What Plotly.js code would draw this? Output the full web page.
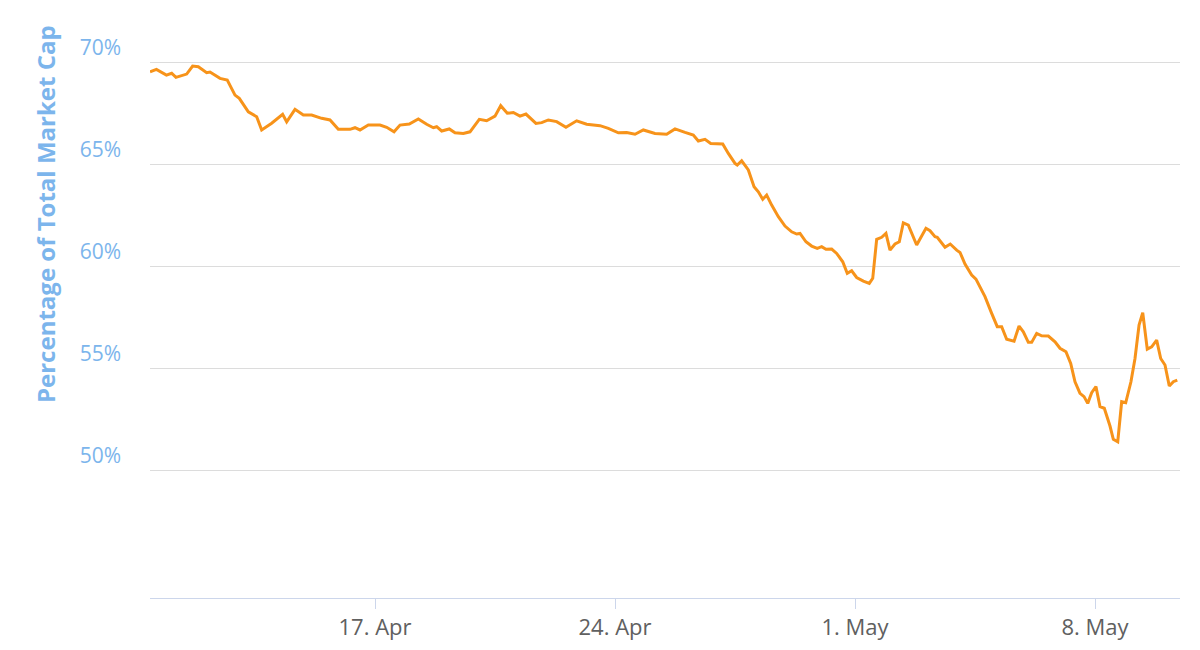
<!DOCTYPE html>
<html>
<head>
<meta charset="utf-8">
<script src="https://cdn.plot.ly/plotly-3.0.1.min.js"></script>
<style>
html,body{margin:0;padding:0;background:#fff;}
#chart{width:1200px;height:650px;}
</style>
</head>
<body>
<div id="chart"></div>
<script>
const times = [
"2017-04-10 10:30","2017-04-10 15:00","2017-04-10 22:00","2017-04-11 01:40","2017-04-11 04:40",
"2017-04-11 12:10","2017-04-11 16:20","2017-04-11 20:20","2017-04-12 02:10","2017-04-12 04:30",
"2017-04-12 11:30","2017-04-12 16:35","2017-04-12 22:00","2017-04-13 01:00","2017-04-13 07:20",
"2017-04-13 13:10","2017-04-13 16:40","2017-04-13 23:40","2017-04-14 07:20","2017-04-14 10:10",
"2017-04-14 16:00","2017-04-14 21:50","2017-04-15 03:40","2017-04-15 10:40","2017-04-15 16:30",
"2017-04-15 22:20","2017-04-16 06:30","2017-04-16 10:00","2017-04-16 13:30","2017-04-16 19:20",
"2017-04-17 03:30","2017-04-17 08:10","2017-04-17 13:20","2017-04-17 17:30","2017-04-18 00:00",
"2017-04-18 06:20","2017-04-18 12:10","2017-04-18 16:50","2017-04-18 19:10","2017-04-18 22:40",
"2017-04-19 04:00","2017-04-19 08:00","2017-04-19 13:50","2017-04-19 18:30","2017-04-20 01:00",
"2017-04-20 06:10","2017-04-20 12:00","2017-04-20 16:00","2017-04-20 20:35","2017-04-21 00:50",
"2017-04-21 05:30","2017-04-21 09:40","2017-04-21 16:40","2017-04-21 20:40","2017-04-22 01:20",
"2017-04-22 07:10","2017-04-22 13:40","2017-04-22 21:10","2017-04-23 04:10","2017-04-23 13:30",
"2017-04-23 19:20","2017-04-24 02:20","2017-04-24 08:10","2017-04-24 14:00","2017-04-24 19:50",
"2017-04-25 04:00","2017-04-25 12:10","2017-04-25 18:00","2017-04-26 01:00","2017-04-26 06:50",
"2017-04-26 10:20","2017-04-26 15:00","2017-04-26 19:00","2017-04-27 03:25","2017-04-27 07:20",
"2017-04-27 12:00","2017-04-27 13:35","2017-04-27 16:40","2017-04-27 21:20","2017-04-28 01:20",
"2017-04-28 04:20","2017-04-28 07:25","2017-04-28 10:10","2017-04-28 13:40","2017-04-28 18:20",
"2017-04-28 23:00","2017-04-29 03:40","2017-04-29 07:10","2017-04-29 09:30","2017-04-29 13:40",
"2017-04-29 17:40","2017-04-29 21:35","2017-04-30 00:40","2017-04-30 03:40","2017-04-30 07:40",
"2017-04-30 11:10","2017-04-30 15:25","2017-04-30 18:35","2017-04-30 21:40","2017-05-01 01:10",
"2017-05-01 05:50","2017-05-01 10:00","2017-05-01 12:25","2017-05-01 15:10","2017-05-01 18:40",
"2017-05-01 21:40","2017-05-02 00:30","2017-05-02 04:00","2017-05-02 07:00","2017-05-02 09:50",
"2017-05-02 13:20","2017-05-02 19:10","2017-05-03 01:40","2017-05-03 04:30","2017-05-03 08:00",
"2017-05-03 09:35","2017-05-03 15:00","2017-05-03 18:40","2017-05-03 23:10","2017-05-04 01:30",
"2017-05-04 05:00","2017-05-04 09:40","2017-05-04 12:40","2017-05-04 19:00","2017-05-04 23:40",
"2017-05-05 03:35","2017-05-05 06:40","2017-05-05 10:10","2017-05-05 15:20","2017-05-05 18:50",
"2017-05-05 21:50","2017-05-06 01:20","2017-05-06 03:40","2017-05-06 07:10","2017-05-06 10:40",
"2017-05-06 15:20","2017-05-06 20:00","2017-05-06 23:30","2017-05-07 03:40","2017-05-07 07:00",
"2017-05-07 10:00","2017-05-07 13:30","2017-05-07 16:20","2017-05-07 18:55","2017-05-07 21:40",
"2017-05-08 00:40","2017-05-08 03:30","2017-05-08 06:30","2017-05-08 10:30","2017-05-08 12:50",
"2017-05-08 15:55","2017-05-08 18:40","2017-05-08 21:30","2017-05-09 01:10","2017-05-09 04:00",
"2017-05-09 06:50","2017-05-09 09:25","2017-05-09 12:35","2017-05-09 15:40","2017-05-09 19:10",
"2017-05-09 22:00","2017-05-10 01:00","2017-05-10 04:00","2017-05-10 06:50","2017-05-10 09:35"
];
const dominance = [
69.52,69.64,69.36,69.45,69.25,
69.41,69.80,69.77,69.48,69.51,
69.20,69.12,68.38,68.22,67.56,
67.32,66.67,67.00,67.44,67.07,
67.68,67.40,67.40,67.24,67.16,
66.70,66.70,66.78,66.67,66.91,
66.91,66.80,66.58,66.91,66.96,
67.21,66.95,66.78,66.83,66.62,
66.72,66.53,66.50,66.58,67.19,
67.12,67.35,67.86,67.49,67.53,
67.35,67.45,66.99,67.03,67.16,
67.08,66.80,67.12,66.95,66.88,
66.75,66.53,66.55,66.46,66.67,
66.50,66.46,66.72,66.55,66.42,
66.13,66.21,66.01,65.98,65.52,
65.03,64.95,65.16,64.71,63.89,
63.64,63.27,63.48,62.99,62.42,
61.96,61.68,61.57,61.60,61.19,
60.98,60.87,60.95,60.82,60.83,
60.62,60.21,59.64,59.77,59.44,
59.26,59.15,59.40,61.31,61.41,
61.60,60.78,61.08,61.19,62.12,
62.01,61.03,61.85,61.73,61.44,
61.41,60.92,61.08,60.78,60.67,
60.10,59.56,59.36,58.50,57.68,
57.03,57.03,56.41,56.32,57.06,
56.78,56.26,56.26,56.70,56.58,
56.57,56.29,55.97,55.80,55.23,
54.33,53.76,53.60,53.27,53.79,
54.09,53.11,53.03,52.16,51.51,
51.39,53.35,53.30,54.33,55.47,
57.11,57.71,55.93,56.04,56.37,
55.47,55.15,54.12,54.33,54.41
];
const yTicks = [50, 55, 60, 65, 70];
const yTickLabels = ["50%", "55%", "60%", "65%", "70%"];
const xTicks = ["2017-04-17", "2017-04-24", "2017-05-01", "2017-05-08"];
const xTickLabels = ["17. Apr", "24. Apr", "1. May", "8. May"];
const yTitle = "Percentage of Total Market Cap";

const trace = {
  x: times, y: dominance, type: "scatter", mode: "lines",
  line: {color: "#f7931a", width: 3},
  hoverinfo: "x+y"
};
const layout = {
  width: 1200, height: 650,
  margin: {l: 150, r: 20, t: 40, b: 52},
  paper_bgcolor: "#ffffff", plot_bgcolor: "#ffffff",
  showlegend: false,
  font: {family: "Open Sans, DejaVu Sans, sans-serif"},
  xaxis: {
    type: "date",
    range: ["2017-04-10 10:30", "2017-05-10 11:30"],
    tickvals: xTicks, ticktext: xTickLabels,
    ticks: "outside", ticklen: 10, tickcolor: "#ccd6eb", tickwidth: 1,
    showline: true, linecolor: "#ccd6eb", linewidth: 1,
    showgrid: false, zeroline: false,
    tickfont: {size: 22, color: "#606060"}
  },
  yaxis: {
    range: [43.73, 71.08],
    tickvals: yTicks, ticktext: yTickLabels,
    showgrid: true, gridcolor: "#dcdcdc", gridwidth: 1,
    zeroline: false, showline: false, ticks: "",
    ticklabelposition: "outside top",
    ticklabelstandoff: 28,
    tickfont: {size: 21, color: "#7cb5ec"}
  },
  annotations: [{
    text: yTitle, textangle: -90,
    xref: "paper", yref: "paper", x: -0.102, y: 0.688,
    xanchor: "center", yanchor: "middle", showarrow: false,
    font: {size: 24, color: "#7cb5ec", family: "Open Sans, DejaVu Sans, sans-serif", weight: "bold"}
  }]
};
Plotly.newPlot("chart", [trace], layout, {displayModeBar: false, staticPlot: true});
</script>
</body>
</html>
